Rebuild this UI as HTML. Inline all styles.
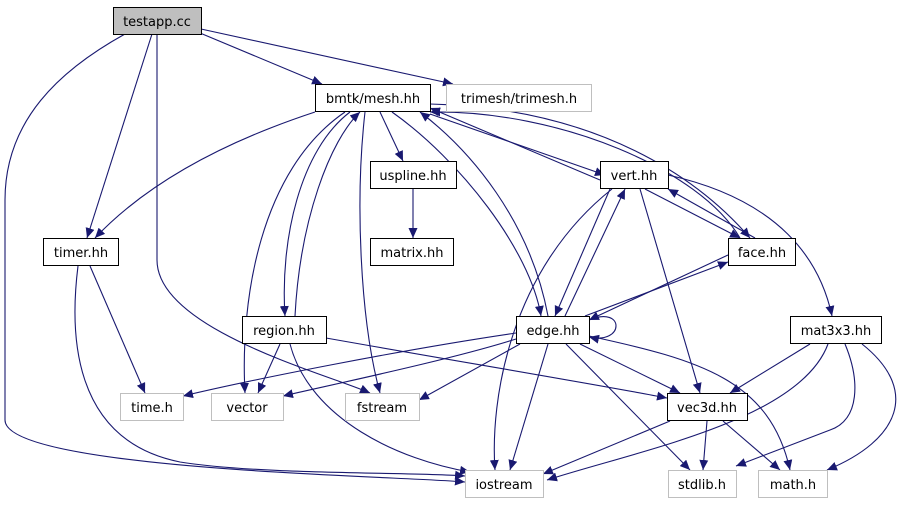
<!DOCTYPE html>
<html><head><meta charset="utf-8"><style>
body{margin:0;background:#fff}
svg text{font-family:"DejaVu Sans","Liberation Sans",sans-serif;font-size:13px;text-anchor:middle}
</style></head><body>
<svg width="911" height="504" viewBox="0 0 911 504" xmlns="http://www.w3.org/2000/svg">
<defs><marker id="a" markerWidth="11" markerHeight="9" refX="10" refY="4.5" orient="auto" markerUnits="userSpaceOnUse"><path d="M0,0 L10,4.5 L0,9z" fill="#191970"/></marker></defs>
<g fill="none" stroke="#191970" stroke-width="1.1" marker-end="url(#a)">
<path d="M200,33 L322,84"/>
<path d="M201,29 L453,84"/>
<path d="M152,34 L87,238"/>
<path d="M157,34 L157,260 C157,330 330,375 370,393"/>
<path d="M125,34 C60,70 5,120 5,200 L5,420 C5,470 400,476 465,482"/>
<path d="M90,266 L145,393"/>
<path d="M78,266 C70,330 70,440 180,462 C260,475 420,472 465,476"/>
<path d="M315,112 C230,140 150,180 95,238"/>
<path d="M380,112 L403,161"/>
<path d="M413,189 L413,238"/>
<path d="M350,112 C300,150 280,240 285,316"/>
<path d="M295,316 C300,220 330,140 360,112"/>
<path d="M345,112 C260,170 240,300 245,393"/>
<path d="M365,112 C355,200 360,320 380,393"/>
<path d="M392,112 C460,160 530,250 541,316"/>
<path d="M548,316 C530,220 470,150 420,112"/>
<path d="M430,114 L605,175"/>
<path d="M600,180 L430,108"/>
<path d="M740,238 C700,170 560,110 430,112"/>
<path d="M430,104 C600,108 700,180 750,238"/>
<path d="M610,189 L555,316"/>
<path d="M565,316 L625,189"/>
<path d="M645,189 L740,238"/>
<path d="M755,238 L668,189"/>
<path d="M612,189 C510,270 490,400 495,470"/>
<path d="M640,189 L700,393"/>
<path d="M668,175 C780,200 820,260 832,316"/>
<path d="M728,255 L589,320"/>
<path d="M585,316 L728,262"/>
<path d="M589,320 C625,305 625,345 589,337"/>
<path d="M516,333 C400,350 250,380 183,396"/>
<path d="M516,339 C450,360 330,385 283,396"/>
<path d="M520,344 L419,400"/>
<path d="M548,344 L510,470"/>
<path d="M580,344 L680,393"/>
<path d="M566,344 L690,470"/>
<path d="M589,336 C700,360 770,380 790,470"/>
<path d="M280,344 L258,393"/>
<path d="M290,344 C310,420 400,460 470,472"/>
<path d="M326,338 C450,360 600,385 667,398"/>
<path d="M810,344 L730,393"/>
<path d="M828,344 C800,420 640,450 547,480"/>
<path d="M845,344 C860,380 860,420 830,430 L736,466"/>
<path d="M862,344 C920,390 900,440 827,470"/>
<path d="M670,421 L543,474"/>
<path d="M707,421 L703,470"/>
<path d="M723,421 L780,470"/>
</g>
<g stroke-width="1">
<rect x="113.5" y="7.5" width="88" height="27" fill="#bfbfbf" stroke="#000"/>
<rect x="315.5" y="84.5" width="115" height="27" fill="#fff" stroke="#000"/>
<rect x="446.5" y="84.5" width="145" height="27" fill="#fff" stroke="#bfbfbf"/>
<rect x="370.5" y="161.5" width="86" height="27" fill="#fff" stroke="#000"/>
<rect x="600.5" y="161.5" width="68" height="27" fill="#fff" stroke="#000"/>
<rect x="43.5" y="238.5" width="75" height="27" fill="#fff" stroke="#000"/>
<rect x="370.5" y="238.5" width="83" height="27" fill="#fff" stroke="#000"/>
<rect x="728.5" y="238.5" width="67" height="27" fill="#fff" stroke="#000"/>
<rect x="242.5" y="316.5" width="84" height="27" fill="#fff" stroke="#000"/>
<rect x="516.5" y="316.5" width="73" height="27" fill="#fff" stroke="#000"/>
<rect x="790.5" y="316.5" width="91" height="27" fill="#fff" stroke="#000"/>
<rect x="120.5" y="393.5" width="63" height="27" fill="#fff" stroke="#bfbfbf"/>
<rect x="211.5" y="393.5" width="72" height="27" fill="#fff" stroke="#bfbfbf"/>
<rect x="345.5" y="393.5" width="74" height="27" fill="#fff" stroke="#bfbfbf"/>
<rect x="667.5" y="393.5" width="80" height="27" fill="#fff" stroke="#000"/>
<rect x="465.5" y="470.5" width="78" height="27" fill="#fff" stroke="#bfbfbf"/>
<rect x="668.5" y="470.5" width="68" height="27" fill="#fff" stroke="#bfbfbf"/>
<rect x="758.5" y="470.5" width="69" height="27" fill="#fff" stroke="#bfbfbf"/>
</g>
<g fill="#000">
<text x="157" y="26">testapp.cc</text>
<text x="373" y="103">bmtk/mesh.hh</text>
<text x="519" y="103">trimesh/trimesh.h</text>
<text x="413" y="180">uspline.hh</text>
<text x="634" y="180">vert.hh</text>
<text x="81" y="257">timer.hh</text>
<text x="412" y="257">matrix.hh</text>
<text x="762" y="257">face.hh</text>
<text x="284" y="335">region.hh</text>
<text x="553" y="335">edge.hh</text>
<text x="836" y="335">mat3x3.hh</text>
<text x="152" y="412">time.h</text>
<text x="247" y="412">vector</text>
<text x="382" y="412">fstream</text>
<text x="707" y="412">vec3d.hh</text>
<text x="504" y="489">iostream</text>
<text x="702" y="489">stdlib.h</text>
<text x="793" y="489">math.h</text>
</g>
</svg>
</body></html>
